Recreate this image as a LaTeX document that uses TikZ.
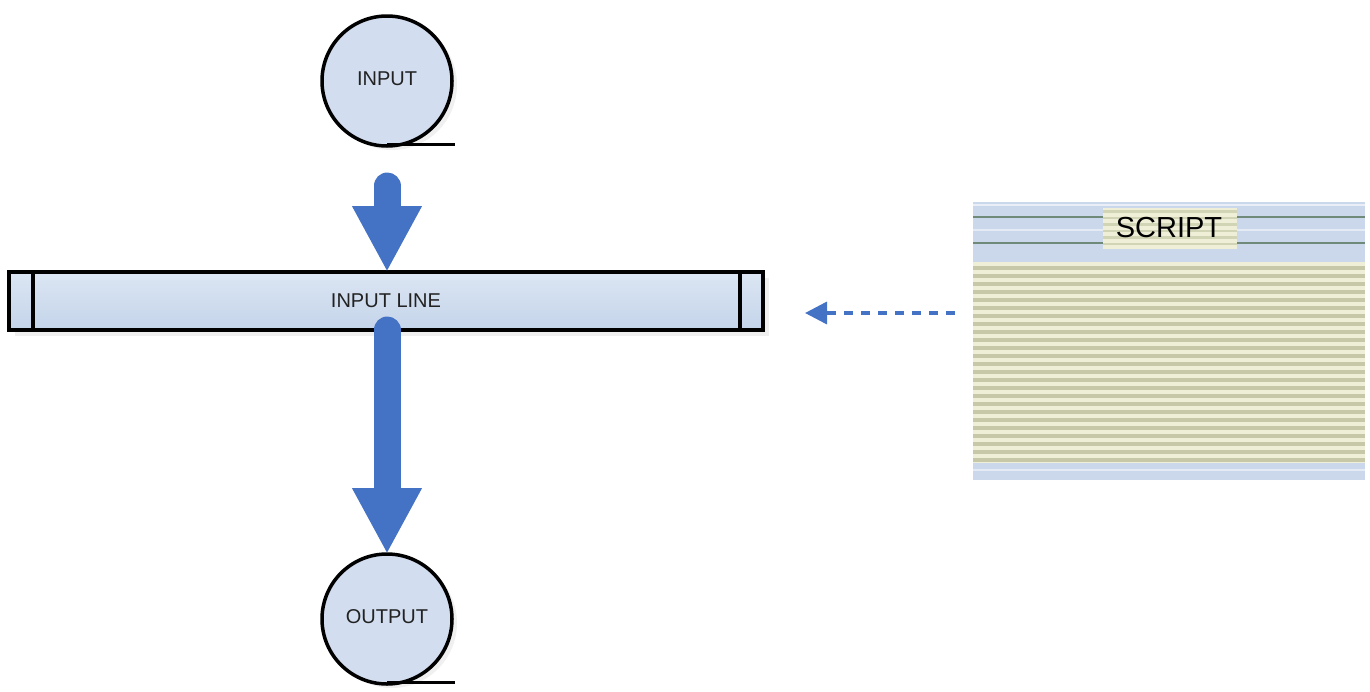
\documentclass[tikz,border=0pt]{standalone}
\usepackage{fontspec}
\setmainfont{Liberation Sans}
\usetikzlibrary{arrows.meta,shadows,calc}
\definecolor{arrowblue}{HTML}{4472C4}
\definecolor{circfill}{HTML}{D2DDEF}
\definecolor{bartop}{HTML}{DCE6F3}
\definecolor{barbot}{HTML}{C4D4EA}
\definecolor{txt}{HTML}{222222}
\definecolor{hdrblue}{HTML}{CBD7EB}
\definecolor{hdrline}{HTML}{6F8A78}
\definecolor{stripelight}{HTML}{EFEFD8}
\definecolor{stripedark}{HTML}{C6C8A8}
\begin{document}
\begin{tikzpicture}[x=1pt,y=-1pt,
  tape/.style={circle, draw=black, line width=3.5pt, fill=circfill, minimum size=130pt,
    inner sep=0pt, outer sep=0pt, text=txt, font=\fontsize{20}{23}\selectfont,
    drop shadow={shadow xshift=5pt, shadow yshift=-4pt, fill=gray!30, opacity=0.4}},
  tapetail/.style={line width=3.5pt, black},
  barbox/.style={draw=black, line width=4pt, minimum width=754pt, minimum height=58pt,
    top color=bartop, bottom color=barbot, inner sep=0pt, outer sep=0pt, text=txt,
    font=\fontsize{20}{23}\selectfont,
    drop shadow={shadow xshift=6pt, shadow yshift=-6pt, fill=gray!35, opacity=0.35}},
  barsep/.style={line width=4pt, black},
  blockarrow/.style={arrowblue, line width=27pt, line cap=round,
    -{Triangle[width=65pt,length=66pt]}},
  dasharrow/.style={arrowblue, line width=3.5pt, dash pattern=on 9pt off 8pt,
    -{Triangle[width=22pt,length=22pt]}},
  scriptlbl/.style={text=black, font=\fontsize{29}{33}\selectfont, inner sep=0pt}
]
\useasboundingbox (0,0) rectangle (1370,691);

% tapes
\node[tape] (in) at (387,81) {\raisebox{5pt}{INPUT}};
\draw[tapetail] ([yshift=1.75pt]in.south) -- ++(68,0);
\node[tape] (out) at (387,619) {\raisebox{5pt}{OUTPUT}};
\draw[tapetail] ([yshift=1.75pt]out.south) -- ++(68,0);

% input line bar
\node[barbox] (line) at (386,301) {INPUT LINE};
\draw[barsep] ([xshift=24pt]line.north west) -- ([xshift=24pt]line.south west);
\draw[barsep] ([xshift=-23pt]line.north east) -- ([xshift=-23pt]line.south east);

% block arrows
\draw[blockarrow] ([yshift=-40pt]in.south) -- (line.north -| in);
\draw[blockarrow] (line.south -| in) -- (out.north);

% script box
\node[minimum width=392pt, minimum height=278pt, inner sep=0pt] (script) at (1169,341) {};
\fill[hdrblue] (973,202) rectangle (1365,262);
\fill[white!60!hdrblue] (973,204) rectangle (1365,206);
\fill[white!50!hdrblue] (973,229) rectangle (1365,231);
\draw[hdrline, line width=1.5pt] (973,217) -- (1365,217);
\draw[hdrline, line width=1.5pt] (973,243) -- (1365,243);
\fill[stripelight] (973,262) rectangle (1365,463);
\foreach \i in {0,...,24} {
  \fill[stripedark] (973,{262+8*\i+4}) rectangle (1365,{262+8*\i+7.5});
}
\fill[hdrblue] (973,463) rectangle (1365,480);
\fill[white!50!hdrblue] (973,469) rectangle (1365,471);
% script label
\fill[stripelight] (1103,208) rectangle (1237,249);
\foreach \i in {0,...,5} {
  \fill[stripedark!70!stripelight] (1103,{210+6.5*\i}) rectangle (1237,{212.5+6.5*\i});
}
\node[scriptlbl] (scriptlabel) at (1169,228) {SCRIPT};

% dashed arrow
\coordinate (ay) at (0,313);
\draw[dasharrow, shorten <=18pt, shorten >=42pt] (script.west |- ay) -- (line.east |- ay);
\end{tikzpicture}
\end{document}
